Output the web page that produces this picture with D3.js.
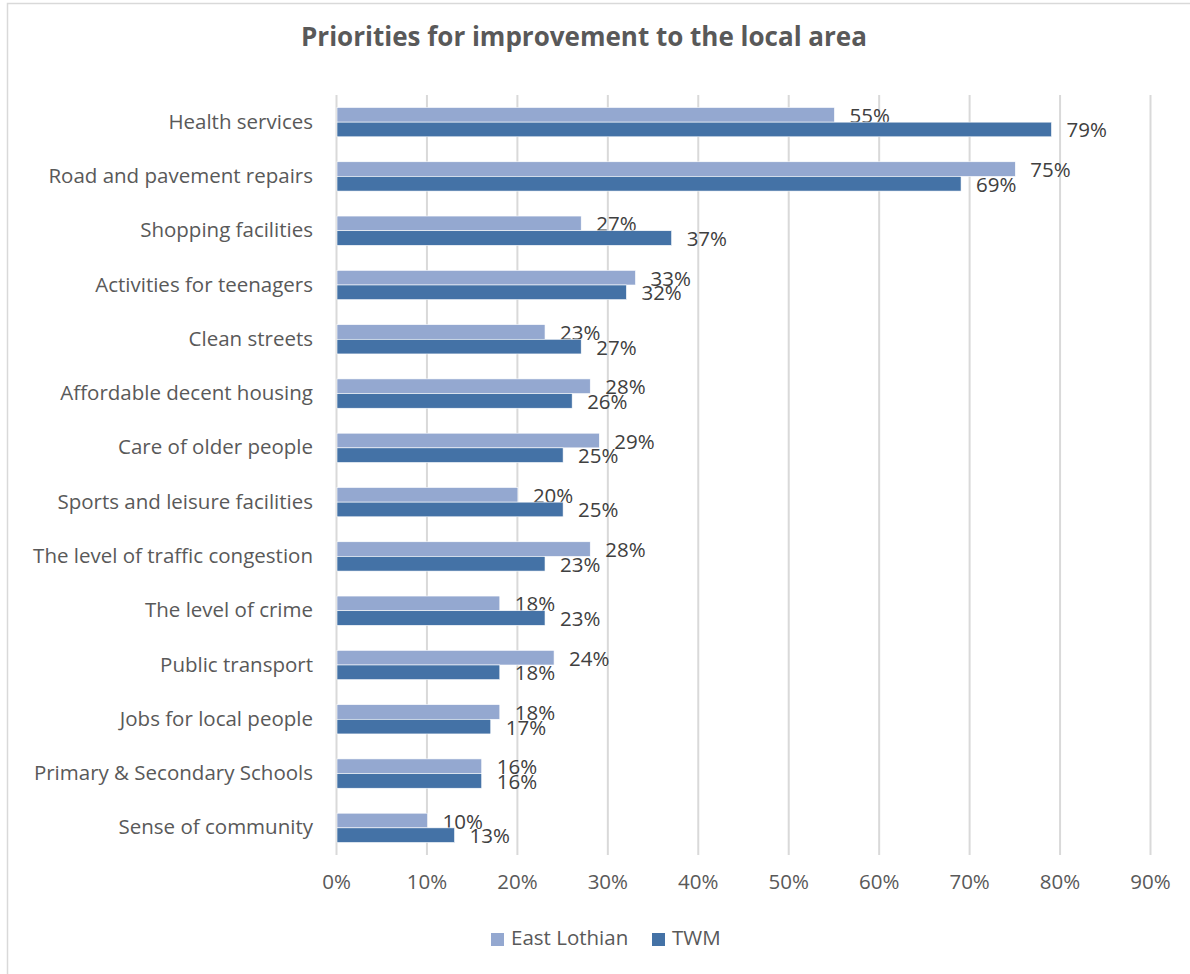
<!DOCTYPE html>
<html>
<head>
<meta charset="utf-8">
<script src="https://cdn.jsdelivr.net/npm/d3@7"></script>
<style>
  html, body { margin: 0; padding: 0; background: #fff; }
  svg { display: block; }
  text { font-family: "Open Sans", sans-serif; }
</style>
</head>
<body>
<svg id="chart" width="1190" height="974"></svg>
<script>
// Survey categories, top to bottom
const categories = [
  "Health services",
  "Road and pavement repairs",
  "Shopping facilities",
  "Activities for teenagers",
  "Clean streets",
  "Affordable decent housing",
  "Care of older people",
  "Sports and leisure facilities",
  "The level of traffic congestion",
  "The level of crime",
  "Public transport",
  "Jobs for local people",
  "Primary & Secondary Schools",
  "Sense of community"
];

// Percentage of respondents naming each priority
const eastLothian = [55, 75, 27, 33, 23, 28, 29, 20, 28, 18, 24, 18, 16, 10];
const twm         = [79, 69, 37, 32, 27, 26, 25, 25, 23, 23, 18, 17, 16, 13];

const seriesNames = ["East Lothian", "TWM"];
const xTicks = [0, 10, 20, 30, 40, 50, 60, 70, 80, 90];

const colors = { "East Lothian": "#94a8d0", "TWM": "#4472a6" };
const FONT = "'Open Sans', sans-serif";
const FS = 20.5;

const svg = d3.select("#chart");

// chart frame
svg.append("rect")
  .attr("x", 7.5).attr("y", 3.5)
  .attr("width", 1190).attr("height", 1000)
  .attr("fill", "#fff").attr("stroke", "#d9d9d9").attr("stroke-width", 1.5);

// title
svg.append("text")
  .attr("x", 584).attr("y", 46)
  .attr("text-anchor", "middle")
  .attr("font-size", 26).attr("font-weight", "bold")
  .attr("fill", "#595959")
  .text("Priorities for improvement to the local area");

const plotLeft = 336, plotRight = 1150, plotTop = 95, plotBottom = 855;

const x = d3.scaleLinear().domain([0, 90]).range([plotLeft, plotRight]);
const y = d3.scaleBand().domain(categories).range([plotTop, plotBottom]).paddingInner(0).paddingOuter(0);
const barH = y.bandwidth() * 0.27;

// vertical gridlines
svg.append("g").selectAll("line")
  .data(xTicks)
  .join("line")
  .attr("x1", d => x(d) + 0.5).attr("x2", d => x(d) + 0.5)
  .attr("y1", plotTop).attr("y2", plotBottom)
  .attr("stroke", "#d9d9d9").attr("stroke-width", 2);

// x tick labels
const xAxis = d3.axisBottom(x).tickValues(xTicks).tickFormat(d => d + "%").tickSize(0).tickPadding(0);
const gx = svg.append("g").attr("transform", `translate(0, ${plotBottom + 18})`).call(xAxis);
gx.select(".domain").remove();
gx.selectAll("text")
  .attr("font-size", FS).attr("fill", "#595959")
  .attr("font-family", FONT)
  .attr("dy", "0.8em");

// category labels
const yAxis = d3.axisLeft(y).tickSize(0).tickPadding(23);
const gy = svg.append("g").attr("transform", `translate(${plotLeft}, 0)`).call(yAxis);
gy.select(".domain").remove();
gy.selectAll("text")
  .attr("font-size", FS).attr("fill", "#595959")
  .attr("font-family", FONT);

// bars + value labels for each series
const series = [eastLothian, twm];
series.forEach((vals, si) => {
  const name = seriesNames[si];
  const rows = categories.map((c, i) => ({ c, v: vals[i] }));
  const yOff = d => y(d.c) + y.bandwidth() / 2 - barH + si * barH;
  svg.append("g").selectAll("rect")
    .data(rows)
    .join("rect")
    .attr("x", x(0) + 1)
    .attr("y", yOff)
    .attr("width", d => x(d.v) - x(0))
    .attr("height", barH)
    .attr("fill", colors[name])
    .attr("stroke", "#ffffff").attr("stroke-width", 0.6);
  svg.append("g").selectAll("text")
    .data(rows)
    .join("text")
    .attr("x", d => x(d.v) + 16)
    .attr("y", d => yOff(d) + barH / 2 + 2.5)
    .attr("dominant-baseline", "middle")
    .attr("font-size", FS).attr("fill", "#404040")
    .text(d => d.v + "%");
});

// legend
const legend = svg.append("g").attr("transform", "translate(491, 940)");
const legendX = [0, 161];
seriesNames.forEach((n, i) => {
  const g = legend.append("g").attr("transform", `translate(${legendX[i]}, 0)`);
  g.append("rect").attr("x", 0).attr("y", -7).attr("width", 13).attr("height", 13).attr("fill", colors[n]);
  g.append("text").attr("x", 20).attr("y", 0).attr("dominant-baseline", "middle")
    .attr("font-size", FS).attr("fill", "#595959").text(n);
});
</script>
</body>
</html>
